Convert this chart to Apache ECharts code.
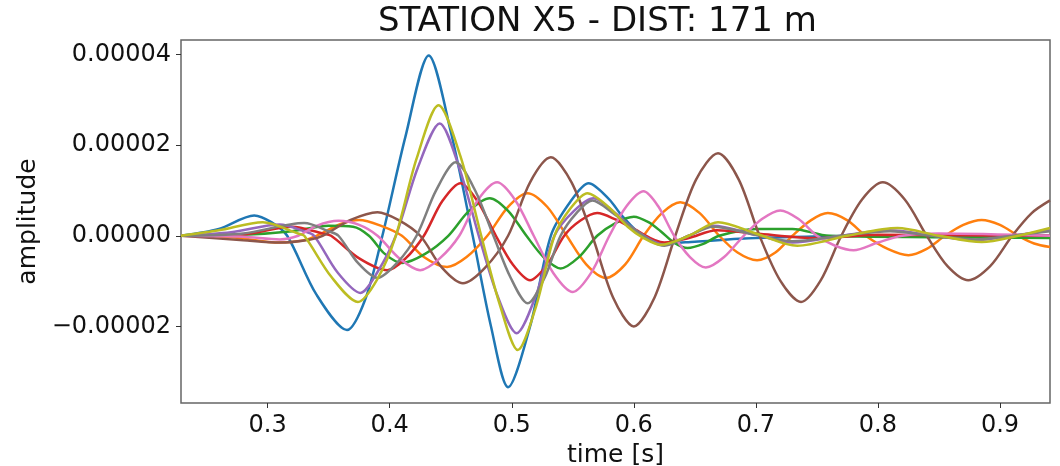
<!DOCTYPE html>
<html>
<head>
<meta charset="utf-8">
<title>STATION X5</title>
<script src="https://cdn.jsdelivr.net/npm/echarts@6/dist/echarts.min.js"></script>
<style>
  html, body { margin: 0; padding: 0; background: #fff; }
  #main { width: 1060px; height: 466px; }
</style>
</head>
<body>
<div id="main"></div>
<script>
// amplitudes, in units of 1e-5
var UNIT = 1e-5;

var blueT = [0.229,0.26,0.289,0.303,0.316,0.34,0.365,0.38,0.394,0.413,0.432,0.45,0.468,0.483,0.497,0.515,0.532,0.548,0.563,0.58,0.59,0.607,0.625,0.65,0.7,0.8,0.941];
var blueV = [0,0.15,0.45,0.3,0,-1.3,-2.08,-1.4,0,2.2,3.98,2.3,0,-2.0,-3.34,-2.0,0,0.75,1.16,0.8,0.45,0,-0.17,-0.13,-0.05,0,0];

var orangeT = [0.229,0.27,0.31,0.33,0.34,0.36,0.375,0.393,0.41,0.428,0.447,0.463,0.48,0.497,0.513,0.529,0.545,0.561,0.577,0.593,0.608,0.623,0.638,0.654,0.67,0.685,0.701,0.716,0.73,0.745,0.759,0.775,0.79,0.808,0.825,0.84,0.855,0.87,0.885,0.9,0.915,0.928,0.941];
var orangeV = [0,-0.03,-0.15,-0.1,0,0.26,0.35,0.22,0,-0.47,-0.69,-0.47,0,0.64,0.94,0.64,0,-0.63,-0.93,-0.63,0,0.5,0.74,0.5,0,-0.37,-0.54,-0.37,0,0.34,0.5,0.34,0,-0.29,-0.43,-0.29,0,0.24,0.35,0.24,0,-0.17,-0.25];

var greenT = [0.229,0.28,0.32,0.35,0.37,0.383,0.396,0.41,0.429,0.448,0.465,0.482,0.497,0.512,0.526,0.54,0.555,0.57,0.585,0.6,0.612,0.622,0.633,0.644,0.657,0.67,0.7,0.73,0.76,0.85,0.941];
var greenV = [0,0.02,0.1,0.22,0.2,0,-0.4,-0.6,-0.4,0,0.55,0.83,0.55,0,-0.47,-0.72,-0.47,0,0.28,0.42,0.3,0.1,-0.15,-0.27,-0.18,0,0.15,0.15,0,-0.03,-0.05];

var redT = [0.229,0.28,0.32,0.345,0.352,0.375,0.398,0.413,0.428,0.443,0.458,0.472,0.487,0.501,0.515,0.529,0.543,0.556,0.57,0.585,0.6,0.625,0.645,0.668,0.7,0.75,0.8,0.941];
var redV = [0,0.03,0.2,0.05,0,-0.5,-0.76,-0.5,0,0.76,1.16,0.76,0,-0.64,-0.98,-0.64,0,0.33,0.5,0.36,0.15,-0.15,-0.05,0.12,0.05,-0.05,0.02,0];

var purpleT = [0.229,0.27,0.31,0.33,0.338,0.357,0.376,0.39,0.405,0.423,0.441,0.457,0.473,0.488,0.504,0.52,0.535,0.551,0.567,0.584,0.6,0.625,0.645,0.665,0.7,0.73,0.77,0.81,0.845,0.88,0.91,0.941];
var purpleV = [0,0.08,0.25,0.1,0,-0.8,-1.26,-0.8,0,1.5,2.48,1.5,0,-1.3,-2.15,-1.3,0,0.55,0.83,0.52,0.15,-0.2,0,0.22,0.02,-0.15,0,0.12,0,-0.1,0,0.12];

var brownT = [0.229,0.28,0.31,0.335,0.345,0.368,0.39,0.407,0.425,0.443,0.46,0.478,0.497,0.515,0.532,0.549,0.566,0.583,0.6,0.617,0.634,0.651,0.669,0.686,0.703,0.72,0.737,0.753,0.77,0.787,0.804,0.822,0.84,0.857,0.874,0.892,0.91,0.926,0.941];
var brownV = [0,-0.1,-0.15,-0.08,0,0.35,0.52,0.35,0,-0.71,-1.05,-0.71,0,1.18,1.73,1.18,0,-1.36,-2.0,-1.36,0,1.24,1.82,1.24,0,-0.99,-1.46,-0.99,0,0.8,1.18,0.8,0,-0.67,-0.98,-0.67,0,0.5,0.78];

var pinkT = [0.229,0.28,0.31,0.325,0.34,0.358,0.375,0.39,0.408,0.425,0.441,0.457,0.472,0.488,0.503,0.518,0.534,0.55,0.565,0.58,0.594,0.608,0.62,0.633,0.646,0.659,0.674,0.69,0.705,0.72,0.735,0.75,0.765,0.78,0.8,0.82,0.85,0.941];
var pinkV = [0,-0.02,-0.08,0,0.22,0.33,0.24,0,-0.5,-0.76,-0.5,0,0.78,1.18,0.78,0,-0.82,-1.24,-0.82,0,0.65,0.98,0.65,0,-0.47,-0.7,-0.47,0,0.37,0.56,0.37,0,-0.22,-0.32,-0.15,0,0.05,0];

var grayT = [0.229,0.28,0.33,0.35,0.358,0.374,0.39,0.406,0.422,0.438,0.454,0.47,0.485,0.499,0.513,0.527,0.54,0.553,0.566,0.583,0.6,0.625,0.645,0.665,0.7,0.73,0.77,0.81,0.845,0.88,0.91,0.941];
var grayV = [0,0.05,0.28,0.1,0,-0.6,-0.93,-0.6,0,1.0,1.62,1.0,0,-0.92,-1.49,-0.92,0,0.5,0.78,0.5,0.15,-0.22,0,0.2,0.02,-0.12,0,0.1,0,-0.08,0,0.1];

var oliveT = [0.229,0.26,0.296,0.325,0.33,0.352,0.374,0.39,0.405,0.422,0.44,0.458,0.475,0.49,0.505,0.52,0.535,0.548,0.562,0.58,0.595,0.608,0.622,0.645,0.669,0.7,0.734,0.775,0.816,0.85,0.885,0.915,0.941];
var oliveV = [0,0.12,0.3,0.05,0,-0.9,-1.46,-0.95,0,1.7,2.88,1.75,0,-1.5,-2.52,-1.55,0,0.6,0.94,0.62,0.2,-0.05,-0.2,0,0.3,0.05,-0.22,0,0.17,0,-0.14,0,0.17];

var xTicks = [0.3, 0.4, 0.5, 0.6, 0.7, 0.8, 0.9];
var yTicks = [-0.00002, 0, 0.00002, 0.00004];

var traces = [
    ['#1f77b4', blueT, blueV],
    ['#ff7f0e', orangeT, orangeV],
    ['#2ca02c', greenT, greenV],
    ['#d62728', redT, redV],
    ['#9467bd', purpleT, purpleV],
    ['#8c564b', brownT, brownV],
    ['#e377c2', pinkT, pinkV],
    ['#7f7f7f', grayT, grayV],
    ['#bcbd22', oliveT, oliveV]
];

var FONT = 'DejaVu Sans';
var chart = echarts.init(document.getElementById('main'));

var series = traces.map(function (tr) {
    var pts = tr[1].map(function (t, i) { return [t, tr[2][i] * UNIT]; });
    return {
        type: 'line',
        data: pts,
        smooth: 0.3,
        showSymbol: false,
        animation: false,
        lineStyle: { color: tr[0], width: 2.5 }
    };
});

chart.setOption({
    backgroundColor: '#fff',
    animation: false,
    graphic: [{
        type: 'text',
        left: 378,
        top: 5,
        style: { text: 'STATION X5 - DIST: 171 m', font: '34px ' + FONT, fill: '#111' }
    }],
    grid: {
        left: 181, right: 10, top: 40, bottom: 63,
        outerBoundsMode: 'none',
        show: true, borderColor: '#666', borderWidth: 1.5, backgroundColor: '#fff'
    },
    xAxis: {
        type: 'value',
        min: 0.229, max: 0.941,
        name: 'time [s]',
        nameLocation: 'middle',
        nameGap: 35,
        nameTextStyle: { fontFamily: FONT, fontSize: 25, color: '#111' },
        axisLine: { show: false, onZero: false },
        splitLine: { show: false },
        axisTick: { show: true, length: 5, customValues: xTicks, lineStyle: { color: '#333' } },
        axisLabel: {
            customValues: xTicks, margin: 11,
            fontFamily: FONT, fontSize: 24, color: '#111',
            formatter: function (v) { return v.toFixed(1); }
        }
    },
    yAxis: {
        type: 'value',
        min: -0.0000369, max: 0.0000432,
        name: 'amplitude',
        nameLocation: 'middle',
        nameGap: 128,
        nameTextStyle: { fontFamily: FONT, fontSize: 25, color: '#111' },
        axisLine: { show: false, onZero: false },
        splitLine: { show: false },
        axisTick: { show: true, length: 5, customValues: yTicks, lineStyle: { color: '#333' } },
        axisLabel: {
            customValues: yTicks, margin: 10,
            fontFamily: FONT, fontSize: 24, color: '#111',
            formatter: function (v) { return v.toFixed(5).replace('-', '\u2212'); }
        }
    },
    series: series
});
</script>
</body>
</html>
